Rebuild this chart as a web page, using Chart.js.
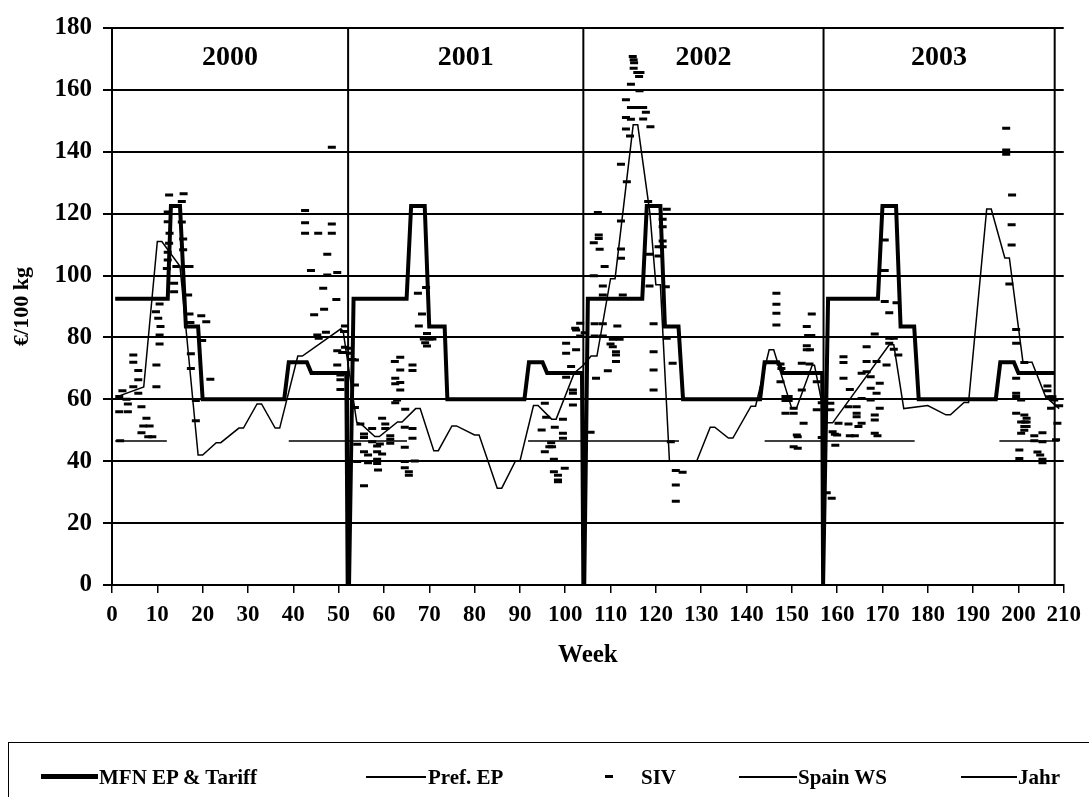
<!DOCTYPE html>
<html>
<head>
<meta charset="utf-8">
<script src="https://cdn.jsdelivr.net/npm/chart.js@4.4.0/dist/chart.umd.min.js"></script>
<style>
html,body{margin:0;padding:0;background:#fff;overflow:hidden;}
#wrap{position:relative;width:1089px;height:797px;overflow:hidden;}
#c{position:absolute;left:0;top:0;}
#legend{position:absolute;left:8px;top:742px;width:1110px;height:90px;border:1.5px solid #000;box-sizing:border-box;font-family:"Liberation Serif","Times New Roman",serif;font-weight:bold;font-size:21px;color:#000;}
.smp{position:absolute;background:#000;}
.txt{position:absolute;top:24px;line-height:21px;white-space:nowrap;}
</style>
</head>
<body>
<div id="wrap">
<canvas id="c" width="1089" height="797"></canvas>
<div id="legend">
  <div class="smp" style="left:32px;top:31px;width:57px;height:5px;"></div>
  <span class="txt" style="left:90px;">MFN EP &amp; Tariff</span>
  <div class="smp" style="left:357px;top:33px;width:60px;height:1.5px;"></div>
  <span class="txt" style="left:419px;">Pref. EP</span>
  <div class="smp" style="left:596px;top:32px;width:8px;height:3px;"></div>
  <span class="txt" style="left:632px;">SIV</span>
  <div class="smp" style="left:730px;top:33px;width:58px;height:1.5px;"></div>
  <span class="txt" style="left:789px;">Spain WS</span>
  <div class="smp" style="left:952px;top:33px;width:56px;height:1.5px;"></div>
  <span class="txt" style="left:1009px;">Jahr</span>
</div>
</div>
<script>
// ---------- DATA ----------
const yearNames = ['2000', '2001', '2002', '2003'];
const yearBounds = [0, 52.1, 104, 157, 208];   // weeks where years start/end (Jahr lines)
const yearLabelLevel = 170.5;                  // €/100 kg level of the year captions
const xTickStep = 10;
const yTickStep = 20;

// MFN EP & Tariff [week, €/100kg]
const mfn = [
  [0.7,92.5],[12.3,92.5],[13,122.5],[15,122.5],[16.3,83.5],[19,83.5],[20,60],[38,60],[39,72],[43,72],[44,68.5],[51.7,68.5],[52,0],[52.3,0],
  [53.3,92.5],[65,92.5],[66,122.5],[69,122.5],[70,83.5],[73.4,83.5],[74,60],[91,60],[92,72],[95,72],[96,68.5],[103.7,68.5],[104,0],[104.2,0],
  [105,92.5],[117,92.5],[118,122.5],[121,122.5],[122,83.5],[125,83.5],[126,60],[143,60],[144,72],[147,72],[148,68.5],[156.7,68.5],[156.9,0],[157.1,0],
  [158,92.5],[169,92.5],[170,122.5],[173,122.5],[174,83.5],[177,83.5],[178,60],[195,60],[196,72],[199,72],[200,68.5],[208,68.5]
];

// Pref. EP periods
const prefLevel = 46.5;
const prefStart = [0.7, 39, 91.8, 144, 195.8];
const prefEnd   = [12.1, 65.1, 125.1, 177.1, 209];

// Spain WS [week, €/100kg]
const spain = [
  [1,60.8],[7,64],[10,111],[11,111],[15,103],[19,42],[20,42],[23,46],[24,46],[28,50.7],[29,50.7],[32,58.5],[33,58.5],[36,50.7],[37,50.7],
  [41,74],[42,74],[50.5,82.8],[51,82],[54,52.6],[55,52],[58,48],[59,48],[63,52.7],[64,52.7],[67,57],[68,57],[71,43.4],[72,43.4],[75,51.4],[76,51.4],
  [80,48.5],[81,48.5],[85,31.3],[86,31.3],[89,40],[90,40],[93,58],[94,58],[97,53.6],[98,53.6],[102,68.5],[104,71],[105.7,74],[107,74],[110,99],[111,99],
  [115,148.7],[116,148.7],[118.7,120],[120,97],[121,97],[123,40],[129,40],[132,51],[133,51],[136,47.5],[137,47.5],[141,57.8],[142,57.8],[145,76],[146,76],
  [150,57],[151,57],[154.5,71],[155,71],[157.5,52.4],[159,52.4],[171.5,77.6],[172.5,77.6],[174.7,57],[180,58],[184,55],[185,55],[188,59],[189,59],
  [193,121.5],[194,121.5],[197,105.7],[198,105.7],[201,72],[203,72],[206,60.8],[209,57]
];

// SIV [week, €/100kg]
const siv = [
  // 2000
  [1.6,60.9],[1.6,56],[1.8,46.6],[2.3,62.8],[3.2,60],[3.5,58.5],[3.5,56],[4.7,74.3],[4.7,72],[4.7,64.1],[5.8,69.3],[5.8,66.3],[5.8,62],
  [6.5,57.6],[6.5,49.2],[6.9,51.4],[7.6,53.9],[8,47.9],[8.3,51.4],[8.9,47.9],[9.7,88.3],[9.8,71.1],[9.8,64.1],[10.2,86.2],[10.5,90.8],
  [10.5,80.8],[10.5,77.9],[10.7,83.5],[12.1,102.3],[12.3,120.5],[12.3,117.4],[12.3,107.5],[12.3,105],[12.6,126],[12.6,110.4],[12.7,113.7],
  [13.7,97.5],[13.7,94.8],[14.2,102.9],[15.4,123.9],[15.4,117.3],[15.7,111.8],[15.7,108.3],[15.8,126.4],[16.4,102.9],[16.8,93.7],[17.1,102.9],
  [17.1,87.6],[17.3,84.8],[17.4,74.7],[17.4,70],[18.5,59.6],[18.5,53.1],[19.7,87],[19.9,79],[20.8,85.1],[21.7,66.5],
  [42.6,121],[42.6,117.1],[42.6,113.7],[43.9,101.6],[44.6,87.3],[45.3,80.8],[45.5,113.7],[45.6,79.7],[46.6,95.9],[46.8,89.1],[47.2,81.7],
  [47.5,106.9],[47.5,100.2],[48.5,141.5],[48.5,116.7],[48.5,113.7],[49.5,92.3],[49.7,101],[49.7,75.7],[49.7,71.1],[50.4,67.9],[50.4,66.3],
  [50.4,63.2],[51.4,83.7],[51.4,76.8],[51.2,81.9],[50.8,75.1],
  // 2001
  [52.3,76.5],[52.5,74.9],[53,72.9],[53.6,72.7],[53.6,64.6],[53.6,57.4],[54.1,45.5],[54.1,39.9],
  [54.8,52],[55.6,48.8],[55.6,47.7],[55.6,43.1],[55.6,32.1],[56.5,42],[56.5,39.5],[57.4,50.6],[57.4,46.3],[58.5,44.9],[58.5,43.1],[58.5,40.6],
  [58.5,39.3],[58.7,37.2],[59.1,45.6],[59.6,42.3],[59.6,53.9],[60.3,52],[60.3,50.6],[61.4,48.2],[61.4,47.1],[61.4,45.8],[62.4,72.2],[62.5,66.8],
  [62.5,65],[62.9,59.8],[62.5,58.9],[63.6,73.6],[63.6,69.5],[63.6,65.4],[63.6,63],[64.7,56.8],[64.6,51],[64.6,44.5],[64.6,39.9],[64.6,37.9],
  [65.5,36.6],[65.5,35.5],[66.3,71.1],[66.3,69.3],[66.3,50.6],[66.3,47.4],[66.8,40.1],[67.5,94.3],[67.7,83.7],[68.4,87.6],[69.3,96.1],
  [68.8,79.5],[69.1,78.3],[69.5,81.3],[69.5,77.2],[70,79.5],[70.7,79.5],
  [94.8,50.1],[95.5,58.7],[95.5,43.1],[95.8,54.2],[96.5,44.7],[96.9,46],[97.1,44.7],[97.5,40.6],[97.5,36.6],[97.7,51],[98.4,35.5],[98.4,33.9],
  [98.4,33.4],[99.5,53.6],[99.5,49],[99.5,47.4],[99.9,37.7],[100.2,78.1],[100.2,74.9],[100.2,67.1],[101.3,70.6],[101.7,63],[101.7,62],
  [101.7,58.2],[102.2,83],[102.4,82.4],[102.4,76],[103.3,84.6],[103.3,80.5],[104.3,81.5],
  // 2002
  [105.6,49.4],[106.3,110.6],[106.3,99.9],[106.5,84.4],[106.5,80.5],[106.8,66.8],[107.2,120.4],[107.4,113.1],[107.4,112],[107.6,108.5],
  [108.3,96.6],[108.3,93.7],[108.3,84.4],[108.3,80.5],[108.7,102.9],[109.4,69.2],[110,77.9],[110.5,79.4],[110.5,77],[111.2,75.4],[111.2,74.3],
  [111.2,72.2],[111.5,83.7],[112,79.4],[112.3,136],[112.3,117.6],[112.3,108.6],[112.3,105.6],[112.7,93.7],[113.4,156.8],[113.4,151.1],
  [113.4,147.4],[113.6,130.3],[114.3,145.1],[114.5,161.8],[114.5,154.3],[114.5,150.5],[114.9,170.8],[115.1,169.7],[115.1,167],[115.2,168.8],
  [115.9,165.6],[116.1,154.3],[116.3,164.3],[116.4,159.7],[116.6,165.6],[117.2,154.3],[117.2,150.6],[117.8,152.8],[118.3,123.9],[118.6,106.9],
  [118.6,96.6],[118.8,148.1],[119.5,84.4],[119.5,75.4],[119.5,69.5],[119.5,63],[120.6,109.3],[120.6,106.3],[121.5,118.2],[121.5,115.8],
  [121.5,111.2],[121.5,109.3],[122.2,96.4],[122.4,121.4],[122.4,79.7],[123.3,46.3],[123.7,71.7],[124.4,37],[124.4,32.3],[124.4,27.1],[125.9,36.4],
  [146.6,94.3],[146.6,90.7],[146.6,87.8],[146.6,84],[147.5,71.4],[147.7,70],[147.5,65.7],[148.6,60.9],[149.3,60.9],[148.6,59.6],[149.3,59.6],
  [150.4,57.1],[148.6,55.5],[150.4,55.5],[151.1,48.5],[151.3,47.9],[150.4,44.7],[151.3,44.2],[152.2,71.7],[152.2,63],[152.6,52.3],[153.3,83.5],
  [153.6,80.6],[154.3,80.6],[153.3,77.3],[153.3,76],[154,76],[153.9,71.4],[154.4,87.6],[155.5,65.7],[155.5,56.6],[156.6,58.9],[156.6,47.7],
  // 2003
  [157.7,29.8],[158.8,28],[158.5,58.7],[158.5,56.6],[159.5,48.7],[159,49.5],[160,48.5],[159.6,45.2],[160.3,52.3],[161.4,73.8],[161.4,71.9],
  [161.4,66.8],[162.5,57.6],[162.5,52],[162.8,63.2],[162.8,48.2],[163.9,48.2],[164.3,57.6],[164.3,55.5],[164.3,54.4],[164.7,51.2],[165.4,60.3],
  [165.4,52.3],[165.4,68.4],[166.5,77],[166.5,72.2],[166.5,68.9],[167.4,67.3],[167.4,63.6],[167.4,59.8],[168.3,81.1],[168.3,54.9],[168.3,53.3],
  [168.3,49],[168.9,48.2],[168.7,62],[168.7,72.2],[169.4,65.2],[169.4,57.1],[170.5,111.5],[170.5,101.6],[170.5,91.6],[170.9,71.1],[171.5,88],
  [171.5,79.7],[171.5,78.1],[172.5,79.7],[172.5,76.2],[173.1,91.2],[173.5,74.3],
  [197.3,147.6],[197.3,140.6],[197.3,139.2],[198.6,126],[198.5,116.4],[198.5,109.9],[198,97.3],[199.5,82.6],[199.5,78.1],[199.5,66.8],
  [199.5,62],[199.5,60.9],[200.6,59.8],[199.5,55.5],[201.3,71.9],[201.3,54.9],[201.8,53.9],[200.6,52.7],[201.4,52.7],[201.8,52.7],[201.3,51.2],
  [201.8,51.2],[200.6,49],[201.3,50],[200.2,43.6],[200.2,40.9],[203.5,48.2],[203.5,46.6],[205.3,49.2],[205.3,46.3],[204.2,43],[204.8,42],
  [205.3,40.6],[205.3,39.5],[206.4,64.3],[206.4,62.8],[206.8,60.8],[207.5,60.8],[207.9,59.8],[207.2,57.1],[209,57.9],[208.6,52.3],[208.3,46.9]
];

// ---------- BUILD ----------
const toXY = arr => arr.map(p => ({x: p[0], y: p[1]}));
const prefData = [];
prefStart.forEach((s, i) => {
  prefData.push({x: s, y: prefLevel}, {x: prefEnd[i], y: prefLevel}, {x: prefEnd[i], y: null});
});
const jahrData = [];
yearBounds.slice(1).forEach(w => {
  jahrData.push({x: w, y: 0}, {x: w, y: 180}, {x: w, y: null});
});

const FONT = '"Liberation Serif","Times New Roman",serif';

const yearLabelPlugin = {
  id: 'yearLabels',
  afterDatasetsDraw(chart) {
    const {ctx, scales: {x, y}} = chart;
    ctx.save();
    ctx.font = 'bold 28px ' + FONT;
    ctx.fillStyle = '#000';
    ctx.textAlign = 'center';
    ctx.textBaseline = 'middle';
    yearNames.forEach((name, i) => {
      const mid = (yearBounds[i] + yearBounds[i + 1]) / 2;
      ctx.fillText(name, x.getPixelForValue(mid), y.getPixelForValue(yearLabelLevel));
    });
    ctx.restore();
  }
};

new Chart(document.getElementById('c'), {
  type: 'line',
  data: {
    datasets: [
      {label: 'MFN EP & Tariff', data: toXY(mfn), borderColor: '#000', borderWidth: 4, pointRadius: 0, tension: 0, spanGaps: false},
      {label: 'SIV', data: toXY(siv), showLine: false, pointStyle: 'line', pointRadius: 4, pointBorderWidth: 3, borderColor: '#000', backgroundColor: '#000', pointHoverRadius: 4},
      {label: 'Spain WS', data: toXY(spain), borderColor: '#000', borderWidth: 1.5, pointRadius: 0, tension: 0},
      {label: 'Pref. EP', data: prefData, borderColor: '#000', borderWidth: 1.5, pointRadius: 0, tension: 0, spanGaps: false},
      {label: 'Jahr', data: jahrData, borderColor: '#000', borderWidth: 2, pointRadius: 0, tension: 0, spanGaps: false}
    ]
  },
  options: {
    responsive: false,
    animation: false,
    events: [],
    layout: {padding: {left: 0, right: 21, top: 28, bottom: 112}},
    plugins: {legend: {display: false}, tooltip: {enabled: false}},
    scales: {
      x: {
        type: 'linear', min: 0, max: 210,
        ticks: {stepSize: xTickStep, color: '#000', font: {family: FONT, weight: 'bold', size: 23}, padding: 8, maxRotation: 0, autoSkip: false},
        grid: {drawOnChartArea: false, drawTicks: true, tickLength: 8, color: '#000', lineWidth: 1.5},
        border: {color: '#000', width: 2},
        title: {display: true, text: 'Week', color: '#000', font: {family: FONT, weight: 'bold', size: 25}, padding: {top: 0, bottom: 14}},
        afterFit: s => { s.height = 100; }
      },
      y: {
        min: 0, max: 180,
        ticks: {stepSize: yTickStep, color: '#000', font: {family: FONT, weight: 'bold', size: 25}, padding: 11},
        grid: {color: '#000', lineWidth: 2, drawTicks: true, tickLength: 9},
        border: {color: '#000', width: 2},
        title: {display: true, text: '€/100 kg', color: '#000', font: {family: FONT, weight: 'bold', size: 22}, padding: {top: 9, bottom: 0}},
        afterFit: s => { s.width = 112; }
      }
    }
  },
  plugins: [yearLabelPlugin]
});
</script>
</body>
</html>
